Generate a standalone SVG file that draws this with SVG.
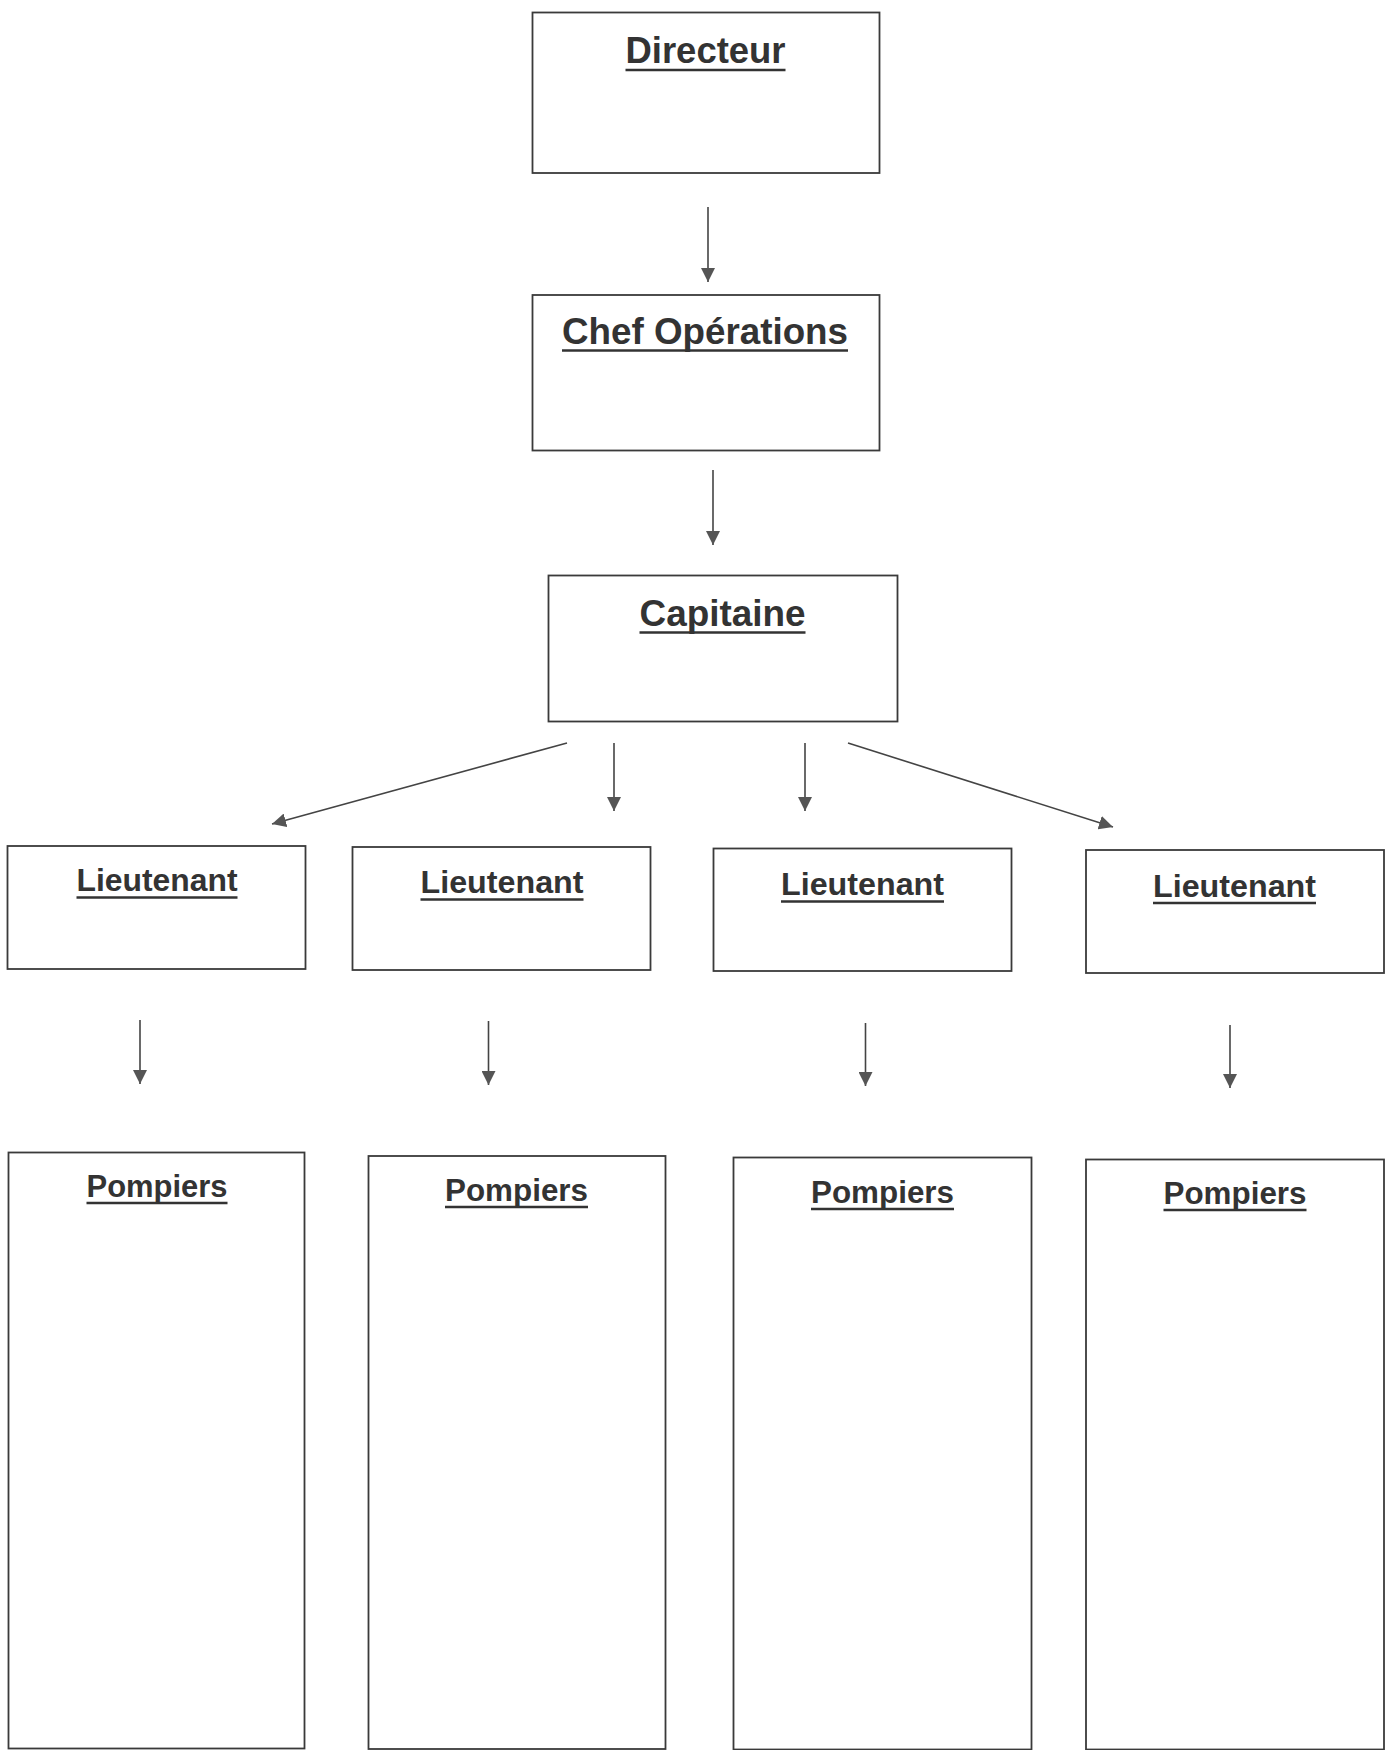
<svg xmlns="http://www.w3.org/2000/svg" width="1391" height="1750" viewBox="0 0 1391 1750">
<style>
.box{fill:#fff;stroke:#3a3a3a;stroke-width:1.8}
.t1{font-family:"Liberation Sans",Arial,sans-serif;font-weight:bold;font-size:36px;fill:#333;text-anchor:middle}
.t2{font-family:"Liberation Sans",Arial,sans-serif;font-weight:bold;font-size:31px;fill:#333;text-anchor:middle}
.ul{stroke:#333;stroke-width:2.6}
.con{stroke:#444;stroke-width:1.6;fill:none;marker-end:url(#ah)}
</style>
<defs>
<marker id="ah" viewBox="0 0 14 14" refX="14" refY="7" markerWidth="14" markerHeight="14" markerUnits="userSpaceOnUse" orient="auto">
<path d="M0,0 L14,7 L0,14 z" fill="#555"/>
</marker>
</defs>
<rect width="1391" height="1750" fill="#fff"/>
<g id="connectors">
<line class="con" x1="708" y1="207" x2="708" y2="282"/>
<line class="con" x1="713" y1="470" x2="713" y2="545"/>
<line class="con" x1="567" y1="743" x2="272" y2="824"/>
<line class="con" x1="614" y1="743" x2="614" y2="811"/>
<line class="con" x1="805" y1="743" x2="805" y2="811"/>
<line class="con" x1="848" y1="743" x2="1113" y2="827"/>
<line class="con" x1="140" y1="1020" x2="140" y2="1084"/>
<line class="con" x1="488.5" y1="1021" x2="488.5" y2="1085"/>
<line class="con" x1="865.5" y1="1023" x2="865.5" y2="1086"/>
<line class="con" x1="1230" y1="1025" x2="1230" y2="1088"/>
</g>
<g id="directeur">
<rect class="box" x="532.5" y="12.5" width="347" height="160.5"/>
<text class="t1" x="705.5" y="63" textLength="160" lengthAdjust="spacingAndGlyphs">Directeur</text>
<line class="ul" x1="625.5" y1="70" x2="785.5" y2="70"/>
</g>
<g id="chef-operations">
<rect class="box" x="532.5" y="295" width="347" height="155.5"/>
<text class="t1" x="705" y="344" textLength="286" lengthAdjust="spacingAndGlyphs">Chef Opérations</text>
<line class="ul" x1="562" y1="350.5" x2="848" y2="350.5"/>
</g>
<g id="capitaine">
<rect class="box" x="548.5" y="575.5" width="349" height="146"/>
<text class="t1" x="722.5" y="626" textLength="166" lengthAdjust="spacingAndGlyphs">Capitaine</text>
<line class="ul" x1="639.5" y1="632.5" x2="805.5" y2="632.5"/>
</g>
<g id="lieutenant-1">
<rect class="box" x="7.5" y="846" width="298" height="123"/>
<text class="t2" x="157" y="891" textLength="161" lengthAdjust="spacingAndGlyphs">Lieutenant</text>
<line class="ul" x1="76.5" y1="897.5" x2="237.5" y2="897.5"/>
</g>
<g id="lieutenant-2">
<rect class="box" x="352.5" y="847" width="298" height="123"/>
<text class="t2" x="502" y="893" textLength="163" lengthAdjust="spacingAndGlyphs">Lieutenant</text>
<line class="ul" x1="420.5" y1="899.5" x2="583.5" y2="899.5"/>
</g>
<g id="lieutenant-3">
<rect class="box" x="713.5" y="848.5" width="298" height="122.5"/>
<text class="t2" x="862.5" y="895" textLength="163" lengthAdjust="spacingAndGlyphs">Lieutenant</text>
<line class="ul" x1="781" y1="901.5" x2="944" y2="901.5"/>
</g>
<g id="lieutenant-4">
<rect class="box" x="1086" y="850" width="298" height="123"/>
<text class="t2" x="1234.5" y="896.5" textLength="163" lengthAdjust="spacingAndGlyphs">Lieutenant</text>
<line class="ul" x1="1153" y1="903" x2="1316" y2="903"/>
</g>
<g id="pompiers-1">
<rect class="box" x="8.5" y="1152.5" width="296" height="596"/>
<text class="t2" x="157" y="1197" textLength="141" lengthAdjust="spacingAndGlyphs">Pompiers</text>
<line class="ul" x1="86.5" y1="1203" x2="227.5" y2="1203"/>
</g>
<g id="pompiers-2">
<rect class="box" x="368.5" y="1156" width="297" height="593"/>
<text class="t2" x="516.5" y="1201" textLength="143" lengthAdjust="spacingAndGlyphs">Pompiers</text>
<line class="ul" x1="445" y1="1207" x2="588" y2="1207"/>
</g>
<g id="pompiers-3">
<rect class="box" x="733.5" y="1157.5" width="298" height="592"/>
<text class="t2" x="882.5" y="1203" textLength="143" lengthAdjust="spacingAndGlyphs">Pompiers</text>
<line class="ul" x1="811" y1="1209" x2="954" y2="1209"/>
</g>
<g id="pompiers-4">
<rect class="box" x="1086" y="1159.5" width="298" height="590"/>
<text class="t2" x="1235" y="1204" textLength="143" lengthAdjust="spacingAndGlyphs">Pompiers</text>
<line class="ul" x1="1163.5" y1="1210" x2="1306.5" y2="1210"/>
</g>
</svg>
